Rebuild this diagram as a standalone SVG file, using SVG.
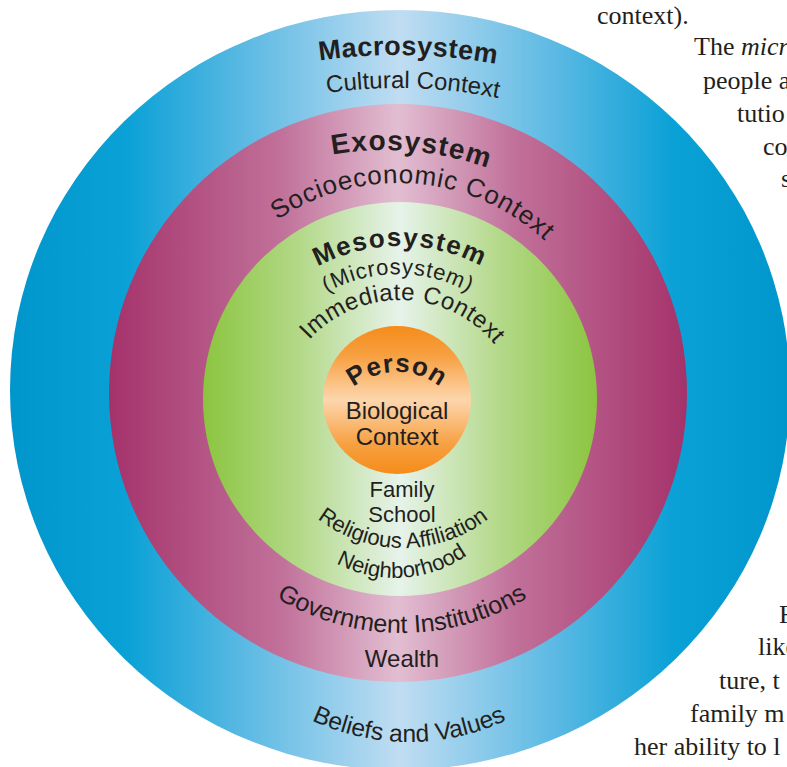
<svg xmlns="http://www.w3.org/2000/svg" width="787" height="767" viewBox="0 0 787 767">
<style>
.t{font-family:"Liberation Sans",Arial,sans-serif;fill:#231f20;}
.b{font-weight:bold;}
.body{font-family:"Liberation Serif","Times New Roman",serif;font-size:26px;fill:#231f20;}
</style>
<defs>
<linearGradient id="gBlue" gradientUnits="userSpaceOnUse" x1="10" y1="0" x2="790" y2="0">
<stop offset="0" stop-color="#0096cb"/><stop offset="0.15" stop-color="#0aa1d6"/><stop offset="0.3" stop-color="#5bb9e3"/><stop offset="0.5" stop-color="#c0ddf2"/><stop offset="0.7" stop-color="#5bb9e3"/><stop offset="0.85" stop-color="#0aa1d6"/><stop offset="1" stop-color="#0096cb"/>
</linearGradient>
<linearGradient id="gMag" gradientUnits="userSpaceOnUse" x1="108" y1="0" x2="688" y2="0">
<stop offset="0" stop-color="#a4326a"/><stop offset="0.3" stop-color="#c1719a"/><stop offset="0.5" stop-color="#e2bed2"/><stop offset="0.7" stop-color="#c1719a"/><stop offset="1" stop-color="#a4326a"/>
</linearGradient>
<linearGradient id="gGreen" gradientUnits="userSpaceOnUse" x1="203" y1="0" x2="597" y2="0">
<stop offset="0" stop-color="#8bc53f"/><stop offset="0.25" stop-color="#b4d98a"/><stop offset="0.5" stop-color="#e6f3ea"/><stop offset="0.75" stop-color="#b4d98a"/><stop offset="1" stop-color="#8bc53f"/>
</linearGradient>
<linearGradient id="gOrange" gradientUnits="userSpaceOnUse" x1="0" y1="326" x2="0" y2="474">
<stop offset="0" stop-color="#f58c1a"/><stop offset="0.2" stop-color="#f7a041"/><stop offset="0.5" stop-color="#fdd6ad"/><stop offset="0.8" stop-color="#f7a041"/><stop offset="1" stop-color="#f58c1a"/>
</linearGradient>
<path id="p-macro" d="M -145 598 A 543 543 0 0 1 941 598"/>
<path id="p-cultural" d="M -102 588 A 500 500 0 0 1 898 588"/>
<path id="p-exo" d="M 85 450 A 300 300 0 0 1 685 450"/>
<path id="p-socio" d="M 183 398 A 215 215 0 0 1 613 398"/>
<path id="p-meso" d="M 225 421 A 175 175 0 0 1 575 421"/>
<path id="p-micro" d="M 253 419 A 145 145 0 0 1 543 419"/>
<path id="p-immediate" d="M 277 423 A 123 123 0 0 1 523 423"/>
<path id="p-person" d="M 327 442 A 70 70 0 0 1 467 442"/>
<path id="p-religious" d="M 263 408 A 140 140 0 0 0 543 408"/>
<path id="p-neigh" d="M 270 453 A 125 125 0 0 0 520 453"/>
<path id="p-gov" d="M 160 391 A 242 242 0 0 0 644 391"/>
<path id="p-beliefs" d="M 179 512 A 230 230 0 0 0 639 512"/>
</defs>

<g id="macrosystem">
<ellipse cx="400" cy="390" rx="390" ry="380" fill="url(#gBlue)"/>
<text class="t b" font-size="27" letter-spacing="0.5"><textPath href="#p-macro" startOffset="50.6%" text-anchor="middle">Macrosystem</textPath></text>
<text class="t" font-size="24"><textPath href="#p-cultural" startOffset="50.95%" text-anchor="middle">Cultural Context</textPath></text>
<text class="t" font-size="24.5"><textPath href="#p-beliefs" startOffset="50%" text-anchor="middle">Beliefs and Values</textPath></text>
</g>

<g id="exosystem">
<circle cx="398" cy="393" r="289" fill="url(#gMag)"/>
<text class="t b" font-size="28" letter-spacing="1.2"><textPath href="#p-exo" startOffset="52.8%" text-anchor="middle">Exosystem</textPath></text>
<text class="t" font-size="26" letter-spacing="0.8"><textPath href="#p-socio" startOffset="52.5%" text-anchor="middle">Socioeconomic Context</textPath></text>
<text class="t" font-size="25"><textPath href="#p-gov" startOffset="50%" text-anchor="middle">Government Institutions</textPath></text>
<text class="t" font-size="24" x="402" y="667" text-anchor="middle">Wealth</text>
</g>

<g id="mesosystem">
<circle cx="400" cy="399" r="197" fill="url(#gGreen)"/>
<text class="t b" font-size="26" letter-spacing="1.5"><textPath href="#p-meso" startOffset="50%" text-anchor="middle">Mesosystem</textPath></text>
<text class="t" font-size="22" letter-spacing="0.8"><textPath href="#p-micro" startOffset="50%" text-anchor="middle">(Microsystem)</textPath></text>
<text class="t" font-size="24" letter-spacing="0.5"><textPath href="#p-immediate" startOffset="50.8%" text-anchor="middle">Immediate Context</textPath></text>
<text class="t" font-size="22" x="402" y="497" text-anchor="middle">Family</text>
<text class="t" font-size="22" x="402" y="522" text-anchor="middle">School</text>
<text class="t" font-size="22"><textPath href="#p-religious" startOffset="50%" text-anchor="middle">Religious Affiliation</textPath></text>
<text class="t" font-size="22"><textPath href="#p-neigh" startOffset="52%" text-anchor="middle">Neighborhood</textPath></text>
</g>

<g id="person">
<circle cx="397" cy="400" r="74" fill="url(#gOrange)"/>
<text class="t b" font-size="26" letter-spacing="1"><textPath href="#p-person" startOffset="50%" text-anchor="middle">Person</textPath></text>
<text class="t" font-size="24" x="397" y="419" text-anchor="middle">Biological</text>
<text class="t" font-size="24" x="397" y="445" text-anchor="middle">Context</text>
</g>

<g id="body-text" class="body">
<text x="597" y="24">context).</text>
<text x="694" y="55">The <tspan font-style="italic">micr</tspan></text>
<text x="703" y="89">people a</text>
<text x="737" y="122">tutio</text>
<text x="763" y="155">co</text>
<text x="781" y="187">s</text>
<text x="779" y="623">F</text>
<text x="758" y="655">like</text>
<text x="719" y="689">ture, t</text>
<text x="690" y="722">family m</text>
<text x="634" y="755">her ability to l</text>
</g>
</svg>
